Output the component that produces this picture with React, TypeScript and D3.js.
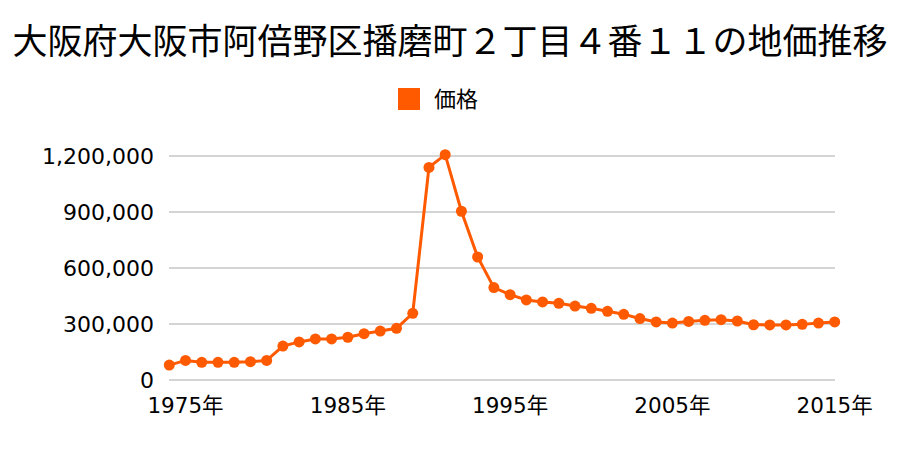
import React from "react";
import * as d3 from "d3";

const years: number[] = d3.range(1974, 2016);
const prices: number[] = [
  80000, 105000, 95000, 95000, 95000, 98000, 105000, 182000, 204000, 220000,
  220000, 229000, 248000, 262000, 277000, 357000, 1139000, 1207000, 904000, 659000,
  495000, 457000, 429000, 418000, 411000, 396000, 384000, 368000, 352000, 329000,
  311000, 305000, 314000, 320000, 323000, 316000, 296000, 295000, 295000, 298000,
  305000, 311000,
];
const yTicks: number[] = [0, 300000, 600000, 900000, 1200000];
const xTicks: number[] = [1975, 1985, 1995, 2005, 2015];
const title = "大阪府大阪市阿倍野区播磨町２丁目４番１１の地価推移";
const seriesName = "価格";

const W = 900;
const H = 450;
const color = "#ff5a00";
const font = "'Noto Sans CJK JP', 'Noto Sans', sans-serif";
const numFont = "'DejaVu Sans', 'Noto Sans CJK JP', sans-serif";

export default function App() {
  const x = d3.scaleLinear().domain([1974, 2015]).range([169.3, 834.7]);
  const y = d3.scaleLinear().domain([0, 1200000]).range([380, 156]);
  const line = d3
    .line<number>()
    .x((_, i) => x(years[i]))
    .y((d) => y(d));
  const fmt = d3.format(",");
  return (
    <svg
      width={W}
      height={H}
      style={{ position: "absolute", left: 0, top: 0, background: "#fff" }}
      fontFamily={font}
    >
      <rect width={W} height={H} fill="#fff" />
      <text x={450} y={54} textAnchor="middle" fontSize={35} fill="#000">
        {title}
      </text>
      <rect x={398} y={88} width={22} height={22} fill={color} />
      <text x={434} y={107} fontSize={22} fill="#000">
        {seriesName}
      </text>
      {yTicks.map((t) => (
        <g key={t}>
          <line x1={169} x2={835} y1={y(t)} y2={y(t)} stroke="#aaaaaa" strokeWidth={1} />
          <text
            x={154}
            y={y(t) + 8}
            textAnchor="end"
            fontSize={22}
            fontFamily={numFont}
            fill="#000"
          >
            {fmt(t)}
          </text>
        </g>
      ))}
      {xTicks.map((t) => (
        <text
          key={t}
          x={x(t)}
          y={413}
          textAnchor="middle"
          fontSize={21.5}
          fontFamily={numFont}
          fill="#000"
        >
          {t + "年"}
        </text>
      ))}
      <path d={line(prices) || ""} fill="none" stroke={color} strokeWidth={3} />
      {prices.map((p, i) => (
        <circle key={i} cx={x(years[i])} cy={y(p)} r={5.5} fill={color} />
      ))}
    </svg>
  );
}
